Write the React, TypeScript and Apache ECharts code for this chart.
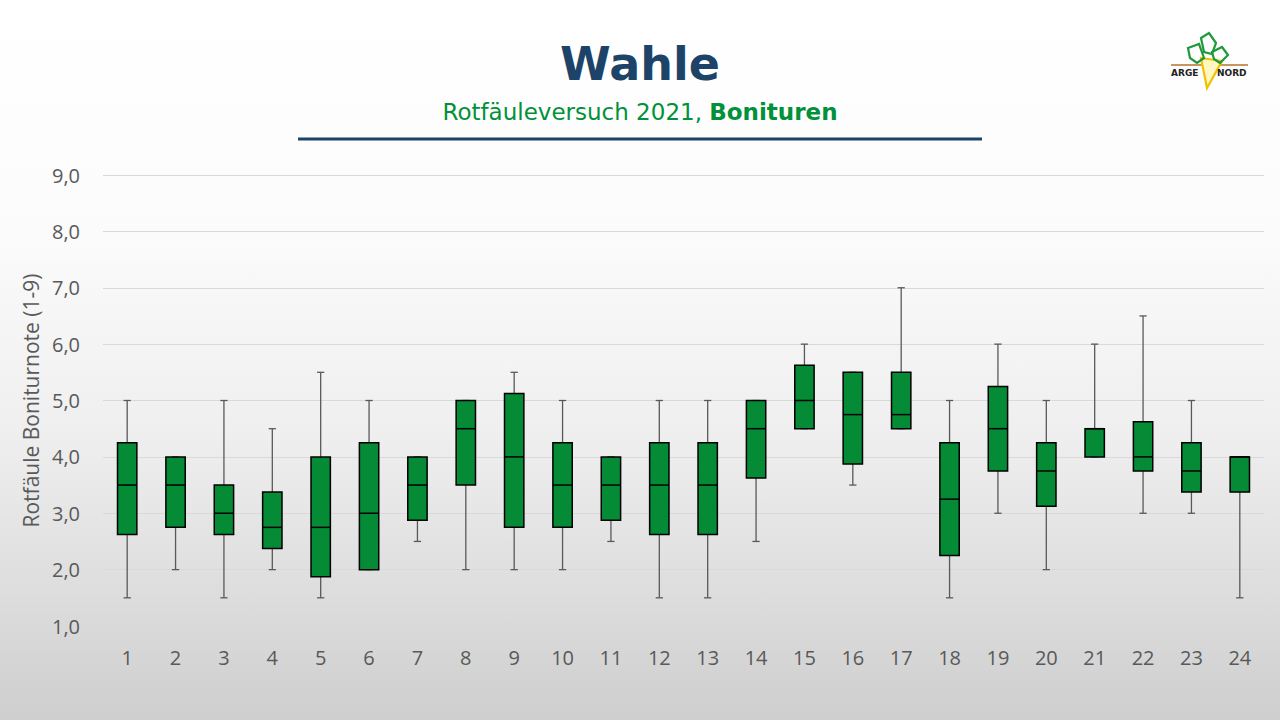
import React, { useEffect, useRef } from "react";
import * as echarts from "echarts";

const categories = ["1","2","3","4","5","6","7","8","9","10","11","12","13","14","15","16","17","18","19","20","21","22","23","24"];
const mins =    [1.5, 2,    1.5,   2,     1.5,   2, 2.5,   2,   2,     2,    2.5,   1.5,   1.5,   2.5,   4.5,   3.5,   4.5,  1.5,  3,    2,     4,   3,     3,     1.5];
const q1s =     [2.625, 2.75, 2.625, 2.375, 1.875, 2, 2.875, 3.5, 2.75, 2.75, 2.875, 2.625, 2.625, 3.625, 4.5,   3.875, 4.5,  2.25, 3.75, 3.125, 4,   3.75,  3.375, 3.375];
const medians = [3.5, 3.5,  3,     2.75,  2.75,  3, 3.5,   4.5, 4,     3.5,  3.5,   3.5,   3.5,   4.5,   5,     4.75,  4.75, 3.25, 4.5,  3.75,  4.5, 4,     3.75,  4];
const q3s =     [4.25, 4,   3.5,   3.375, 4,     4.25, 4,  5,   5.125, 4.25, 4,     4.25,  4.25,  5,     5.625, 5.5,   5.5,  4.25, 5.25, 4.25,  4.5, 4.625, 4.25,  4];
const maxs =    [5,   4,    5,     4.5,   5.5,   5, 4,     5,   5.5,   5,    4,     5,     5,     5,     6,     5.5,   7,    5,    6,    5,     6,   6.5,   5,     4];

const yTicks = [1, 2, 3, 4, 5, 6, 7, 8, 9];

const title = "Wahle";
const subtitleA = "Rotfäuleversuch 2021, ";
const subtitleB = "Bonituren";
const yAxisName = "Rotfäule Boniturnote (1-9)";

const NAVY = "#1d4368";
const GREEN = "#058b35";
const SUB_GREEN = "#00913a";
const LABEL = "#595959";

export default function App() {
  const ref = useRef<HTMLDivElement>(null);
  useEffect(() => {
    if (!ref.current) return;
    const chart = echarts.init(ref.current, null, { renderer: "svg" });
    const data = categories.map((c, i) => [i, mins[i], q1s[i], medians[i], q3s[i], maxs[i]]);
    const option: any = {
      animation: false,
      backgroundColor: "transparent",
      grid: { left: 103, right: 16, top: 175, bottom: 94 },
      xAxis: {
        type: "category",
        data: categories,
        axisLine: { show: false },
        axisTick: { show: false },
        axisLabel: { color: LABEL, fontSize: 20, fontFamily: "Open Sans", margin: 21 },
      },
      yAxis: {
        type: "value",
        min: yTicks[0],
        max: yTicks[yTicks.length - 1],
        interval: 1,
        name: yAxisName,
        nameLocation: "middle",
        nameGap: 60,
        nameRotate: 90,
        nameTextStyle: { color: LABEL, fontSize: 21, fontFamily: "Open Sans" },
        axisLine: { show: false },
        axisTick: { show: false },
        axisLabel: {
          color: LABEL,
          fontSize: 20,
          fontFamily: "Open Sans",
          margin: 23,
          formatter: (v: number) => v.toFixed(1).replace(".", ","),
        },
        splitLine: { lineStyle: { color: "#d9d9d9", width: 1 } },
      },
      series: [
        {
          type: "custom",
          data,
          encode: { x: 0, y: [1, 2, 3, 4, 5] },
          renderItem: (params: any, api: any) => {
            const x = api.value(0);
            const band = api.size([1, 0])[0];
            const bw = band * 0.4;
            const cw = band * 0.15;
            const pMin = api.coord([x, api.value(1)]);
            const pQ1 = api.coord([x, api.value(2)]);
            const pMed = api.coord([x, api.value(3)]);
            const pQ3 = api.coord([x, api.value(4)]);
            const pMax = api.coord([x, api.value(5)]);
            const cx = pMed[0];
            const wStyle = { stroke: "#595959", lineWidth: 1.3 };
            return {
              type: "group",
              children: [
                { type: "line", shape: { x1: cx, y1: pMax[1], x2: cx, y2: pQ3[1] }, style: wStyle },
                { type: "line", shape: { x1: cx, y1: pQ1[1], x2: cx, y2: pMin[1] }, style: wStyle },
                { type: "line", shape: { x1: cx - cw / 2, y1: pMax[1], x2: cx + cw / 2, y2: pMax[1] }, style: wStyle },
                { type: "line", shape: { x1: cx - cw / 2, y1: pMin[1], x2: cx + cw / 2, y2: pMin[1] }, style: wStyle },
                {
                  type: "rect",
                  shape: { x: cx - bw / 2, y: pQ3[1], width: bw, height: pQ1[1] - pQ3[1] },
                  style: { fill: GREEN, stroke: "#000", lineWidth: 1.5 },
                },
                {
                  type: "line",
                  shape: { x1: cx - bw / 2, y1: pMed[1], x2: cx + bw / 2, y2: pMed[1] },
                  style: { stroke: "#000", lineWidth: 1.5 },
                },
              ],
            };
          },
        },
      ],
      graphic: [
        {
          type: "text",
          left: "center",
          top: 41,
          style: {
            text: title,
            fill: NAVY,
            font: "bold 46px 'DejaVu Sans'",
          },
        },
        {
          type: "text",
          left: "center",
          top: 100,
          style: {
            text: "{a|" + subtitleA + "}{b|" + subtitleB + "}",
            rich: {
              a: { fill: SUB_GREEN, fontSize: 23, fontFamily: "DejaVu Sans" },
              b: { fill: SUB_GREEN, fontSize: 23, fontFamily: "DejaVu Sans", fontWeight: "bold" },
            },
          },
        },
        {
          type: "line",
          shape: { x1: 298, y1: 139, x2: 982, y2: 139 },
          style: { stroke: NAVY, lineWidth: 3 },
        },
        // logo
        {
          type: "group",
          children: [
            { type: "line", shape: { x1: 1171, y1: 65, x2: 1248, y2: 65 }, style: { stroke: "#b5732e", lineWidth: 1.5 } },
            { type: "polygon", shape: { points: [[1201, 58], [1207, 88], [1222, 61]] }, style: { fill: "#fff7c2", stroke: "#f2c200", lineWidth: 2.2 } },
            { type: "polygon", shape: { points: [[1188, 48], [1199, 44], [1204, 58], [1197, 63], [1190, 58]] }, style: { fill: "none", stroke: "#1e9a3a", lineWidth: 2.2 } },
            { type: "polygon", shape: { points: [[1201, 38], [1209, 33], [1216, 43], [1212, 54], [1204, 52]] }, style: { fill: "none", stroke: "#1e9a3a", lineWidth: 2.2 } },
            { type: "polygon", shape: { points: [[1212, 52], [1222, 47], [1228, 55], [1220, 63], [1214, 59]] }, style: { fill: "none", stroke: "#1e9a3a", lineWidth: 2.2 } },
            { type: "text", x: 1171, y: 68, style: { text: "ARGE", fill: "#222", font: "bold 9px 'DejaVu Sans'" } },
            { type: "text", x: 1217, y: 68, style: { text: "NORD", fill: "#222", font: "bold 9px 'DejaVu Sans'" } },
          ],
        },
      ],
    };
    chart.setOption(option);
    return () => chart.dispose();
  }, []);
  return (
    <div
      style={{
        position: "absolute",
        left: 0,
        top: 0,
        width: 1280,
        height: 720,
        background: "linear-gradient(to bottom, #ffffff 0%, #fcfcfc 30%, #efefef 60%, #dfdfdf 80%, #cecece 100%)",
      }}
    >
      <div ref={ref} style={{ width: 1280, height: 720 }} />
    </div>
  );
}
